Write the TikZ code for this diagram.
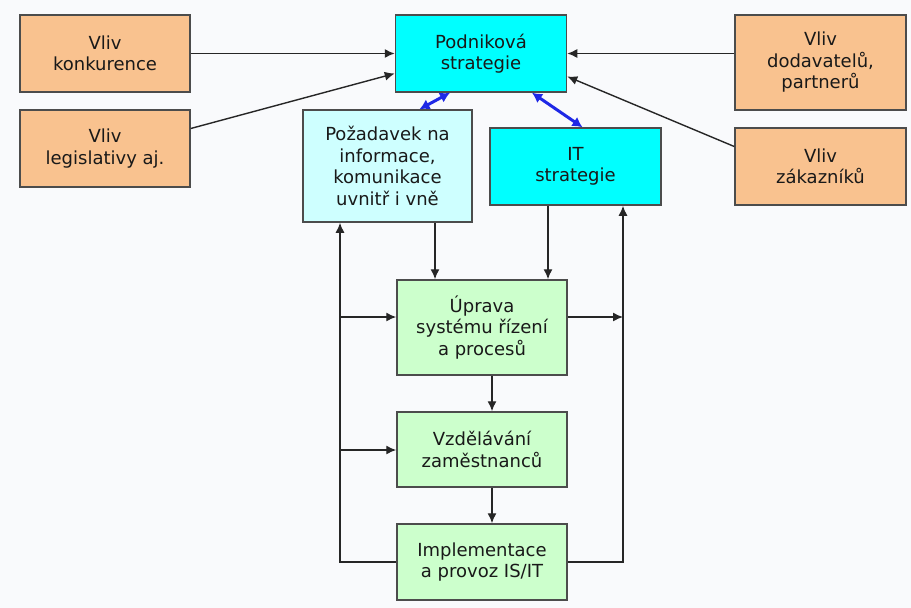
\documentclass[tikz,border=0pt]{standalone}
\usepackage{fontspec}
\setmainfont{DejaVu Sans}
\usetikzlibrary{arrows.meta}
\definecolor{peach}{RGB}{249,194,143}
\definecolor{aqua}{RGB}{0,255,255}
\definecolor{paleaqua}{RGB}{206,255,255}
\definecolor{palegreen}{RGB}{204,255,204}
\definecolor{bgcol}{RGB}{249,250,252}
\definecolor{linkblue}{RGB}{30,40,230}
\tikzset{
  box/.style={draw=black!70, line width=1.5pt, minimum width=170pt, minimum height=77pt,
    align=center, text=black!90, inner sep=0pt, font=\fontsize{18}{21.5}\selectfont},
  vlivbox/.style={box, fill=peach},
  stratbox/.style={box, fill=aqua},
  krokbox/.style={box, fill=palegreen},
  arr/.style={-{Latex[length=10pt,width=9pt]}, line width=1.4pt, black!85},
  bluearr/.style={{Latex[length=10pt,width=11pt]}-{Latex[length=10pt,width=11pt]}, line width=3pt, linkblue}
}
\begin{document}
\begin{tikzpicture}[x=1pt,y=-1pt]
\fill[bgcol] (0,0) rectangle (911,608);
\useasboundingbox (0,0) rectangle (911,608);
% vlivy okoli
\node[vlivbox] (konk) at (105,53.5) {Vliv\\konkurence};
\node[vlivbox] (legis) at (105,148.5) {Vliv\\legislativy aj.};
\node[vlivbox, minimum width=171pt, minimum height=95pt] (dodav) at (820.5,62.5) {Vliv\\dodavatelů,\\partnerů};
\node[vlivbox, minimum width=171pt] (zakaz) at (820.5,166.5) {Vliv\\zákazníků};
% strategie
\node[stratbox, minimum width=171pt] (podn) at (481,53.5) {Podniková\\strategie};
\node[box, fill=paleaqua, minimum width=169pt, minimum height=112pt] (pozad) at (387.5,166) {Požadavek na\\informace,\\komunikace\\uvnitř i vně};
\node[stratbox, minimum width=171pt] (itstr) at (575.5,166.5) {IT\\strategie};
% kroky
\node[krokbox, minimum height=95pt] (uprava) at (482,327.5) {Úprava\\systému řízení\\a procesů};
\node[krokbox, minimum height=75pt] (vzdel) at (482,449.5) {Vzdělávání\\zaměstnanců};
\node[krokbox, minimum height=76pt] (impl) at (482,562) {Implementace\\a provoz IS/IT};
\coordinate (l1) at (340,317);
\coordinate (l2) at (340,450);
\coordinate (r1) at (623,317);
% vazby
\draw[arr] (konk) -- (podn);
\draw[arr] ([yshift=20pt]legis.east) -- ([yshift=-20pt]podn.west);
\draw[arr] ([yshift=9pt]dodav.west) -- (podn.east);
\draw[arr] ([yshift=20pt]zakaz.west) -- ([yshift=-23pt]podn.east);
\draw[bluearr] ([xshift=-31pt]podn.south) -- ([xshift=32pt]pozad.north);
\draw[bluearr] ([xshift=51pt]podn.south) -- ([xshift=7pt]itstr.north);
\draw[arr] ([xshift=47.5pt]pozad.south) -- ([xshift=-47pt]uprava.north);
\draw[arr] ([xshift=-27.5pt]itstr.south) -- ([xshift=66pt]uprava.north);
\draw[arr] ([xshift=10pt]uprava.south) -- ([xshift=10pt]vzdel.north);
\draw[arr] ([xshift=10pt]vzdel.south) -- ([xshift=10pt]impl.north);
\draw[arr] (impl.west) -| ([xshift=-47.5pt]pozad.south);
\draw[arr] (impl.east) -| ([xshift=47.5pt]itstr.south);
\draw[arr] (l1) -- (l1 -| uprava.west);
\draw[arr] (l2) -- (l2 -| vzdel.west);
\draw[arr] (r1 -| uprava.east) -- (r1);
\end{tikzpicture}
\end{document}
